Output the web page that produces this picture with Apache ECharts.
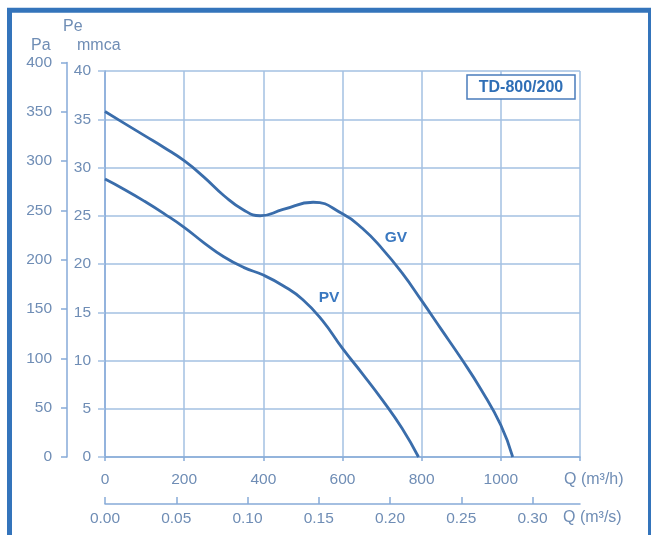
<!DOCTYPE html>
<html>
<head>
<meta charset="utf-8">
<script src="https://cdn.jsdelivr.net/npm/echarts@6/dist/echarts.min.js"></script>
<style>html,body{margin:0;padding:0;background:#fff;}#c{width:651px;height:535px;}</style>
</head>
<body>
<div id="c"></div>
<script>
// ---- data ----
const gvQ = [0, 50, 100, 150, 200, 250, 300, 350, 392, 450, 526, 600, 650, 700, 750, 800, 850, 900, 950, 1000, 1030];
const gvP = [35.8, 34.55, 33.3, 32.05, 30.7, 29.0, 27.1, 25.6, 25.0, 25.65, 26.4, 25.2, 23.7, 21.6, 19.1, 16.2, 13.2, 10.2, 7.0, 3.3, 0];
const pvQ = [0, 50, 100, 150, 200, 250, 300, 350, 400, 450, 500, 550, 600, 650, 700, 750, 792];
const pvP = [28.8, 27.7, 26.5, 25.2, 23.8, 22.2, 20.75, 19.65, 18.85, 17.75, 16.3, 14.1, 11.25, 8.65, 5.95, 3.0, 0];
const qHourTicks = [0, 200, 400, 600, 800, 1000];
const qSecTicks = [0, 0.05, 0.10, 0.15, 0.20, 0.25, 0.30];
const qHourMax = 1200;
const mmcaMax = 40;
const paMax = 400;

const labelColor = '#6f8db5';
const axisColor = '#86aad8';
const gridColor = '#a3c0e2';
const curveColor = '#3a6dab';
const font = 'Liberation Sans, Arial, sans-serif';

const chart = echarts.init(document.getElementById('c'), null, {renderer: 'canvas'});
const lbl = {color: labelColor, fontSize: 15.5, fontFamily: font};

chart.setOption({
  animation: false,
  backgroundColor: '#fff',
  grid: [
    {left: 105, right: 71, top: 71, bottom: 78, containLabel: false},
    {left: 67, width: 1, top: 62.5, bottom: 78, containLabel: false}
  ],
  xAxis: [
    {
      type: 'value', gridIndex: 0, min: 0, max: qHourMax, interval: 200,
      axisLine: {show: true, lineStyle: {color: axisColor, width: 1.5}},
      axisTick: {show: true, length: 4, lineStyle: {color: axisColor, width: 1.5}},
      axisLabel: Object.assign({margin: 15, customValues: qHourTicks, formatter: v => String(v)}, lbl),
      splitLine: {show: true, lineStyle: {color: gridColor, width: 1.5}}
    },
    {
      type: 'value', gridIndex: 0, position: 'bottom', offset: 47,
      min: 0, max: qHourMax / 3600,
      axisLine: {show: true, onZero: false, lineStyle: {color: axisColor, width: 1.5}},
      axisTick: {show: true, inside: true, length: 7, customValues: qSecTicks, lineStyle: {color: axisColor, width: 1.5}},
      axisLabel: Object.assign({margin: 7, customValues: qSecTicks, formatter: v => v.toFixed(2)}, lbl),
      splitLine: {show: false}
    },
    {type: 'value', gridIndex: 1, min: 0, max: 1, show: false}
  ],
  yAxis: [
    {
      type: 'value', gridIndex: 0, min: 0, max: mmcaMax, interval: 5,
      axisLine: {show: true, lineStyle: {color: axisColor, width: 1.5}},
      axisTick: {show: true, length: 7, lineStyle: {color: gridColor, width: 1.5}},
      axisLabel: Object.assign({margin: 14}, lbl),
      splitLine: {show: true, lineStyle: {color: gridColor, width: 1.5}}
    },
    {
      type: 'value', gridIndex: 1, position: 'left', min: 0, max: paMax, interval: 50,
      axisLine: {show: true, lineStyle: {color: axisColor, width: 1.5}},
      axisTick: {show: true, length: 6, lineStyle: {color: axisColor, width: 1.5}},
      axisLabel: Object.assign({margin: 15}, lbl),
      splitLine: {show: false}
    }
  ],
  series: [
    {
      name: 'GV', type: 'line', xAxisIndex: 0, yAxisIndex: 0,
      data: gvQ.map((q, i) => [q, gvP[i]]),
      smooth: 0.5, showSymbol: false, symbol: 'none',
      lineStyle: {color: curveColor, width: 2.8}, z: 5
    },
    {
      name: 'PV', type: 'line', xAxisIndex: 0, yAxisIndex: 0,
      data: pvQ.map((q, i) => [q, pvP[i]]),
      smooth: 0.5, showSymbol: false, symbol: 'none',
      lineStyle: {color: curveColor, width: 2.8}, z: 5
    }
  ],
  graphic: [
    {type: 'rect', shape: {x: 9.5, y: 10.3, width: 641, height: 600}, style: {fill: 'none', stroke: '#3474bb', lineWidth: 5}, z: 100, silent: true},
    {type: 'text', left: 63, top: 19, style: {text: 'Pe', font: '16px ' + font, fill: labelColor}},
    {type: 'text', left: 31, top: 38, style: {text: 'Pa', font: '16px ' + font, fill: labelColor}},
    {type: 'text', left: 77, top: 38, style: {text: 'mmca', font: '16px ' + font, fill: labelColor}},
    {type: 'text', x: 564, y: 480, style: {text: 'Q (m³/h)', font: '16px ' + font, fill: labelColor, verticalAlign: 'middle'}},
    {type: 'text', x: 563, y: 518, style: {text: 'Q (m³/s)', font: '16px ' + font, fill: labelColor, verticalAlign: 'middle'}},
    {type: 'rect', shape: {x: 467, y: 75, width: 108, height: 24}, style: {fill: '#fff', stroke: '#4a7cbc', lineWidth: 1.5}, z: 50},
    {type: 'text', x: 521, y: 87.5, z: 51, style: {text: 'TD-800/200', font: 'bold 16px ' + font, fill: '#2f6fb6', align: 'center', verticalAlign: 'middle'}},
    {type: 'text', x: 396, y: 238, z: 51, style: {text: 'GV', font: 'bold 15.5px ' + font, fill: '#3a78c0', align: 'center', verticalAlign: 'middle'}},
    {type: 'text', x: 329, y: 298, z: 51, style: {text: 'PV', font: 'bold 15.5px ' + font, fill: '#3a78c0', align: 'center', verticalAlign: 'middle'}}
  ]
});
</script>
</body>
</html>
